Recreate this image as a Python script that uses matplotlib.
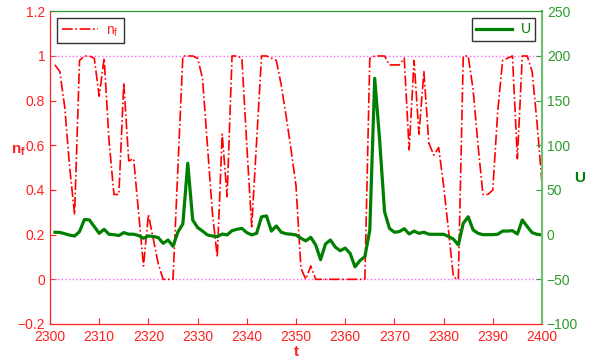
import numpy as np
import matplotlib
matplotlib.use("Agg")
import matplotlib.pyplot as plt

plt.rcParams['font.family'] = ['Liberation Sans', 'DejaVu Sans']

# time axis
t = np.arange(2301, 2401)

# n_f (left axis)
nf = [0.96, 0.93, 0.77, 0.50, 0.29, 0.98, 1.00, 1.00, 0.99, 0.82,
      0.99, 0.62, 0.38, 0.38, 0.88, 0.53, 0.54, 0.30, 0.06, 0.29,
      0.18, 0.07, 0.00, 0.00, 0.00, 0.50, 1.00, 1.00, 1.00, 0.99,
      0.90, 0.60, 0.30, 0.10, 0.65, 0.37, 1.00, 1.00, 0.99, 0.60,
      0.235, 0.62, 1.00, 1.00, 0.99, 0.98, 0.87, 0.73, 0.58, 0.42,
      0.05, 0.00, 0.06, 0.00, 0.00, 0.00, 0.00, 0.00, 0.00, 0.00,
      0.00, 0.00, 0.00, 0.00, 0.99, 1.00, 1.00, 1.00, 0.96, 0.96,
      0.96, 0.99, 0.58, 0.98, 0.65, 0.93, 0.61, 0.556, 0.59, 0.42,
      0.22, 0.01, 0.00, 1.00, 1.00, 0.85, 0.60, 0.38, 0.38, 0.40,
      0.75, 0.98, 0.99, 1.00, 0.54, 1.00, 1.00, 0.93, 0.70, 0.43]

# U (right axis)
U = [2.7, 2.5, 1.0, -0.5, -1.5, 3.4, 17, 16.5, 9, 1.5,
     6, 0.4, 0, -1, 2.3, 0.5, 0.5, -1, -4, -1.5,
     -2, -3.3, -9.7, -6, -13, 3, 12, 80, 16.5, 8,
     4, -0.3, -1.5, -2.2, 0.7, -0.3, 4.5, 6, 7, 2.3,
     -0.3, 1.5, 20, 21, 4, 9.7, 2.7, 1, 0.5, -0.3,
     -4, -7, -3, -11.5, -28, -10.4, -6, -14, -18, -15,
     -21, -36, -29, -24.6, 5, 175, 106, 25.7, 7, 2.7,
     3.4, 6.7, 0.8, 4, 1.5, 2.7, 0.5, 0.4, 0.4, 0.4,
     -2, -5, -11.5, 12.7, 20, 5.3, 1.5, 0, 0, 0,
     0.5, 4, 4, 4.5, 0.7, 16.5, 9, 2.3, 0.4, -0.3]

red = '#ff2020'
green = '#008000'
lgreen = '#2e9b2e'

fig = plt.figure(figsize=(6.01, 3.59), dpi=100)
ax1 = fig.add_axes([0.0832, 0.0975, 0.8186, 0.871])
ax2 = ax1.twinx()

# reference lines at nf=0 and nf=1
ax1.axhline(0, color='#ff66ff', ls=':', lw=1)
ax1.axhline(1, color='#ff66ff', ls=':', lw=1)

l1, = ax1.plot(t, nf, color='red', ls='-.', lw=1.2, label='n$_\\mathregular{f}$')
l2, = ax2.plot(t, U, color=green, lw=2.3, label='U')

ax1.set_xlim(2300, 2400)
ax1.set_ylim(-0.2, 1.2)
ax2.set_ylim(-100, 250)
ax1.set_xticks(np.arange(2300, 2401, 10))
ax1.set_yticks([-0.2, 0, 0.2, 0.4, 0.6, 0.8, 1, 1.2])
ax1.set_yticklabels(['\u22120.2', '0', '0.2', '0.4', '0.6', '0.8', '1', '1.2'])
ax2.set_yticks(np.arange(-100, 251, 50))

ax1.tick_params(axis='both', direction='in', colors=red, labelsize=10, length=4)
ax1.tick_params(axis='x', pad=4)
ax2.tick_params(axis='y', direction='in', colors=lgreen, labelsize=10, length=4)

for s in ['left', 'bottom']:
    ax1.spines[s].set_color(red)
    ax2.spines[s].set_color(red)
ax1.spines['top'].set_color(lgreen)
ax2.spines['top'].set_color(lgreen)
ax1.spines['right'].set_color('#6fbf6f')
ax2.spines['right'].set_color('#6fbf6f')
ax2.spines['right'].set_linewidth(1.5)

ax1.set_xlabel('t', color=red, fontweight='bold', fontsize=11, labelpad=1)
ax1.set_ylabel('n$_\\mathregular{f}$', color=red, fontweight='bold', fontsize=11, rotation=0)
ax1.yaxis.set_label_coords(-0.065, 0.53)
ax2.set_ylabel('U', color=green, fontweight='bold', fontsize=11, rotation=0)
ax2.yaxis.set_label_coords(1.077, 0.49)

leg1 = ax1.legend(handles=[l1], loc='upper left', fancybox=False, edgecolor='black',
                  fontsize=10, handlelength=2.6, borderaxespad=0.5, borderpad=0.35,
                  handletextpad=0.6)
leg1.get_frame().set_linewidth(1)
for txt in leg1.get_texts():
    txt.set_color(red)
leg2 = ax2.legend(handles=[l2], loc='upper right', fancybox=False, edgecolor='black',
                  fontsize=10, handlelength=2.6, borderaxespad=0.5, borderpad=0.3,
                  handletextpad=0.6)
leg2.get_frame().set_linewidth(1)
for txt in leg2.get_texts():
    txt.set_color(green)

fig.savefig('out.png', dpi=100)
